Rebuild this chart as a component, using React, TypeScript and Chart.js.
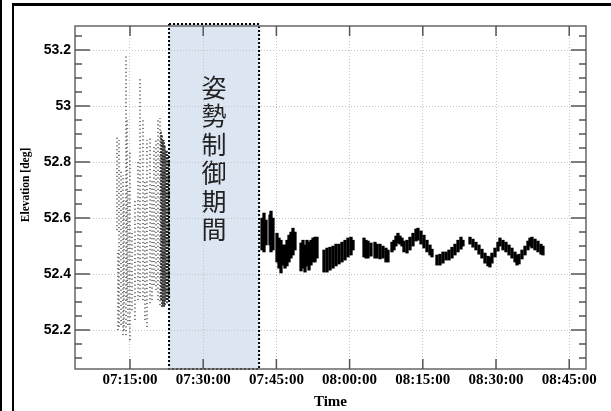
import React, { useEffect, useRef } from "react";
import { Chart, registerables } from "chart.js";

Chart.register(...registerables);

// Time values are minutes after 07:00:00
const xMinMinutes = 3.73;
const xMaxMinutes = 108.44;
const xTickMinutes = [15, 30, 45, 60, 75, 90, 105];

const yMin = 52.061;
const yMax = 53.286;
const yMajorTicks = [52.2, 52.4, 52.6, 52.8, 53.0, 53.2];
const yMinorTicks = [52.1, 52.15, 52.25, 52.3, 52.35, 52.45, 52.5, 52.55, 52.65, 52.7, 52.75, 52.85, 52.9, 52.95, 53.05, 53.1, 53.15, 53.25];

// attitude control period (07:23:00 - 07:41:27)
const controlStart = 23.0;
const controlEnd = 41.45;
const controlLabel = "姿勢制御期間";

// sparse scattered samples before the control period (vertical spreads)
const sparseTime = [12.34, 12.54, 12.75, 13.16, 13.57, 13.77, 14.18, 14.39, 14.59, 15.0, 15.41, 16.02, 16.64, 17.05, 17.66, 18.07, 18.48, 19.1, 19.51, 19.92, 20.33, 20.74, 21.15];
const sparseLow = [52.557, 52.2, 52.211, 52.218, 52.182, 52.2, 52.182, 52.307, 52.218, 52.164, 52.271, 52.236, 52.307, 52.318, 52.307, 52.236, 52.211, 52.296, 52.307, 52.361, 52.343, 52.307, 52.289];
const sparseHigh = [52.896, 52.486, 52.879, 52.771, 52.754, 52.664, 53.182, 52.95, 52.7, 52.843, 52.557, 52.664, 52.807, 53.1, 52.95, 52.736, 52.879, 52.889, 52.736, 52.861, 52.879, 52.95, 52.957];

// dense samples just before the control period
const denseTime = [21.35, 21.56, 21.76, 21.97, 22.17, 22.38, 22.58, 22.79, 22.99];
const denseLow = [52.307, 52.282, 52.289, 52.282, 52.289, 52.307, 52.296, 52.307, 52.325];
const denseHigh = [52.914, 52.896, 52.879, 52.879, 52.861, 52.843, 52.843, 52.825, 52.807];

// samples after the control period
const afterTime = [
  42.05, 42.46, 42.87, 43.69, 43.89, 44.3,
  45.12, 45.53, 45.94, 46.35,
  46.76, 47.17, 47.58, 47.99, 48.4, 48.81,
  50.04, 50.45, 50.86, 51.27, 51.68, 52.09, 52.5, 52.91, 53.32,
  54.75, 55.37, 55.98, 56.6, 57.21, 57.83, 58.44, 59.06, 59.67, 60.29, 60.7,
  62.95, 63.36, 63.77, 64.38, 65.2, 65.61, 66.23, 66.84, 67.45, 67.86,
  68.68, 69.09, 69.5, 69.91, 70.32, 70.73,
  71.14, 71.76, 72.37, 72.99, 73.6, 74.01, 74.63, 75.24, 75.86, 76.47, 76.88,
  77.9, 78.52, 79.13, 79.75, 80.36, 80.98, 81.59, 82.21, 82.82, 83.23,
  84.67, 85.28, 85.89, 86.51, 87.12, 87.74, 88.35, 88.76, 89.17, 89.79, 90.4, 90.81,
  91.43, 92.04, 92.66, 93.27, 93.89, 94.3, 94.71, 95.32, 95.94, 96.55, 96.96,
  97.37, 97.99, 98.6, 99.21, 99.62,
];
const afterLow = [
  52.486, 52.479, 52.504, 52.504, 52.479, 52.486,
  52.443, 52.421, 52.404, 52.432,
  52.421, 52.429, 52.443, 52.457, 52.468, 52.486,
  52.411, 52.421, 52.407, 52.429, 52.414, 52.432, 52.443, 52.443, 52.457,
  52.407, 52.407, 52.414, 52.421, 52.429, 52.436, 52.443, 52.45, 52.461, 52.468, 52.486,
  52.461, 52.457, 52.457, 52.464, 52.457, 52.457, 52.454, 52.457, 52.443, 52.443,
  52.479, 52.486, 52.5, 52.511, 52.507, 52.5,
  52.479, 52.475, 52.486, 52.5, 52.518, 52.521, 52.507, 52.493, 52.479, 52.468, 52.461,
  52.432, 52.432, 52.439, 52.45, 52.45, 52.457, 52.468, 52.479, 52.489, 52.5,
  52.507, 52.496, 52.486, 52.471, 52.457, 52.439, 52.429, 52.425, 52.439, 52.461, 52.482, 52.5,
  52.486, 52.479, 52.468, 52.457, 52.443, 52.432, 52.436, 52.454, 52.468, 52.486, 52.5,
  52.493, 52.486, 52.479, 52.471, 52.468,
];
const afterHigh = [
  52.6, 52.618, 52.593, 52.611, 52.625, 52.6,
  52.546, 52.529, 52.521, 52.504,
  52.504, 52.521, 52.539, 52.55, 52.564, 52.55,
  52.511, 52.521, 52.504, 52.521, 52.514, 52.521, 52.529, 52.532, 52.532,
  52.486, 52.493, 52.496, 52.5, 52.507, 52.507, 52.514, 52.521, 52.529, 52.532, 52.521,
  52.529, 52.521, 52.518, 52.511, 52.514, 52.507, 52.507, 52.5, 52.493, 52.486,
  52.514, 52.521, 52.536, 52.546, 52.536, 52.529,
  52.518, 52.521, 52.532, 52.546, 52.561, 52.564, 52.554, 52.539, 52.521, 52.504, 52.489,
  52.468, 52.471, 52.479, 52.479, 52.486, 52.496, 52.507, 52.521, 52.532, 52.521,
  52.532, 52.525, 52.514, 52.504, 52.489, 52.475, 52.464, 52.461, 52.475, 52.493, 52.514, 52.529,
  52.521, 52.514, 52.504, 52.493, 52.479, 52.468, 52.471, 52.486, 52.5, 52.518, 52.529,
  52.532, 52.525, 52.518, 52.507, 52.5,
];

function formatClock(m: number): string {
  const total = Math.round(m * 60) + 7 * 3600;
  const h = Math.floor(total / 3600);
  const mm = Math.floor((total % 3600) / 60);
  const ss = total % 60;
  const p = (n: number) => String(n).padStart(2, "0");
  return `${p(h)}:${p(mm)}:${p(ss)}`;
}

// one small line dataset per vertical spread of samples
function spreadDatasets(t: number[], lo: number[], hi: number[], width: number, dash: number[]) {
  return t.map((tv, i) => ({
    type: "line",
    data: [
      { x: tv, y: lo[i] },
      { x: tv, y: hi[i] },
    ],
    borderColor: "#000",
    borderWidth: width,
    borderDash: dash,
    pointRadius: 0,
    tension: 0,
  }));
}

const overlayPlugin = {
  id: "overlay",
  beforeDraw(chart: any) {
    const { ctx, chartArea: a, scales } = chart;
    const x1 = scales.x.getPixelForValue(controlStart);
    const x2 = scales.x.getPixelForValue(controlEnd);
    ctx.save();
    ctx.fillStyle = "#dce6f2";
    ctx.fillRect(x1, a.top - 2, x2 - x1, a.bottom - a.top + 2);
    ctx.fillStyle = "#222";
    ctx.font = '25px "Noto Sans CJK JP", sans-serif';
    ctx.textAlign = "center";
    ctx.textBaseline = "middle";
    Array.from(controlLabel).forEach((c, i) => {
      ctx.fillText(c, (x1 + x2) / 2, a.top + 61.5 + i * 28.4);
    });
    ctx.restore();
  },
  afterDraw(chart: any) {
    const { ctx, chartArea: a, scales } = chart;
    const xs = scales.x;
    const ys = scales.y;
    ctx.save();
    // control period dotted border
    const x1 = xs.getPixelForValue(controlStart);
    const x2 = xs.getPixelForValue(controlEnd);
    ctx.strokeStyle = "#000";
    ctx.lineWidth = 2;
    ctx.setLineDash([2, 2]);
    ctx.strokeRect(x1, a.top - 2, x2 - x1, a.bottom - a.top + 2);
    ctx.setLineDash([]);

    // plot frame
    ctx.strokeStyle = "#666";
    ctx.lineWidth = 1.5;
    ctx.strokeRect(a.left, a.top, a.right - a.left, a.bottom - a.top);

    // inward ticks
    ctx.strokeStyle = "#555";
    ctx.lineWidth = 1.5;
    ctx.beginPath();
    xTickMinutes.forEach((m) => {
      const px = xs.getPixelForValue(m);
      ctx.moveTo(px, a.bottom);
      ctx.lineTo(px, a.bottom - 10);
      ctx.moveTo(px, a.top);
      ctx.lineTo(px, a.top + 10);
    });
    yMajorTicks.forEach((v) => {
      const py = ys.getPixelForValue(v);
      ctx.moveTo(a.left, py);
      ctx.lineTo(a.left + 15, py);
      ctx.moveTo(a.right, py);
      ctx.lineTo(a.right - 15, py);
    });
    yMinorTicks.forEach((v) => {
      const py = ys.getPixelForValue(v);
      ctx.moveTo(a.left, py);
      ctx.lineTo(a.left + 7, py);
      ctx.moveTo(a.right, py);
      ctx.lineTo(a.right - 7, py);
    });
    ctx.stroke();

    // axis titles
    ctx.fillStyle = "#000";
    ctx.textAlign = "center";
    ctx.textBaseline = "middle";
    ctx.font = 'bold 15px "Liberation Serif", serif';
    ctx.fillText("Time", (a.left + a.right) / 2, 402);
    ctx.save();
    ctx.translate(26, 185);
    ctx.rotate(-Math.PI / 2);
    ctx.font = 'bold 11.5px "Liberation Serif", serif';
    ctx.fillText("Elevation [deg]", 0, 0);
    ctx.restore();

    // outer frame
    ctx.fillStyle = "#000";
    ctx.fillRect(0, 0, 2, chart.height);
    ctx.fillRect(12, 3, 2, chart.height - 3);
    ctx.fillRect(12, 3, chart.width - 12, 3);
    ctx.restore();
  },
};

export default function App() {
  const ref = useRef<HTMLCanvasElement>(null);
  useEffect(() => {
    if (!ref.current) return;
    const chart = new Chart(ref.current, {
      type: "bar",
      data: {
        datasets: [
          ...spreadDatasets(sparseTime, sparseLow, sparseHigh, 1, [1.2, 2.6]),
          ...spreadDatasets(denseTime, denseLow, denseHigh, 1.3, [2, 1.2]),
          {
            type: "bar",
            data: afterTime.map((t, i) => ({ x: t, y: [afterLow[i], afterHigh[i]] })),
            backgroundColor: "#000",
            borderWidth: 0,
            barThickness: 2.6,
            grouped: false,
          },
        ] as any,
      },
      options: {
        responsive: false,
        animation: false,
        devicePixelRatio: 1,
        events: [],
        layout: { padding: { top: 26, right: 25, left: 0, bottom: 0 } },
        plugins: { legend: { display: false }, tooltip: { enabled: false }, title: { display: false } },
        scales: {
          x: {
            type: "linear",
            min: xMinMinutes,
            max: xMaxMinutes,
            offset: false,
            afterBuildTicks: (s: any) => {
              s.ticks = xTickMinutes.map((v) => ({ value: v }));
            },
            afterFit: (s: any) => {
              s.height = 42;
            },
            grid: { color: "#c4c4c4", lineWidth: 1, drawTicks: false, offset: false },
            border: { display: false, dash: [1, 2] },
            ticks: {
              padding: 2,
              maxRotation: 0,
              autoSkip: false,
              color: "#000",
              font: { family: '"Liberation Serif", serif', size: 15, weight: "bold" },
              callback: (v: any) => formatClock(Number(v)),
            },
          },
          y: {
            type: "linear",
            min: yMin,
            max: yMax,
            afterBuildTicks: (s: any) => {
              s.ticks = yMajorTicks.map((v) => ({ value: v }));
            },
            afterFit: (s: any) => {
              s.width = 75;
            },
            grid: { color: "#c4c4c4", lineWidth: 1, drawTicks: false },
            border: { display: false, dash: [1, 2] },
            ticks: {
              padding: 4,
              autoSkip: false,
              color: "#000",
              font: { family: '"Liberation Sans", Arial, sans-serif', size: 14, weight: "bold" },
              callback: (v: any) => String(Number(Number(v).toFixed(1))),
            },
          },
        },
      } as any,
      plugins: [overlayPlugin],
    });
    return () => chart.destroy();
  }, []);
  return (
    <div style={{ position: "fixed", left: 0, top: 0, width: 611, height: 411, background: "#fff" }}>
      <canvas ref={ref} width={611} height={411} style={{ display: "block", width: 611, height: 411 }} />
    </div>
  );
}
